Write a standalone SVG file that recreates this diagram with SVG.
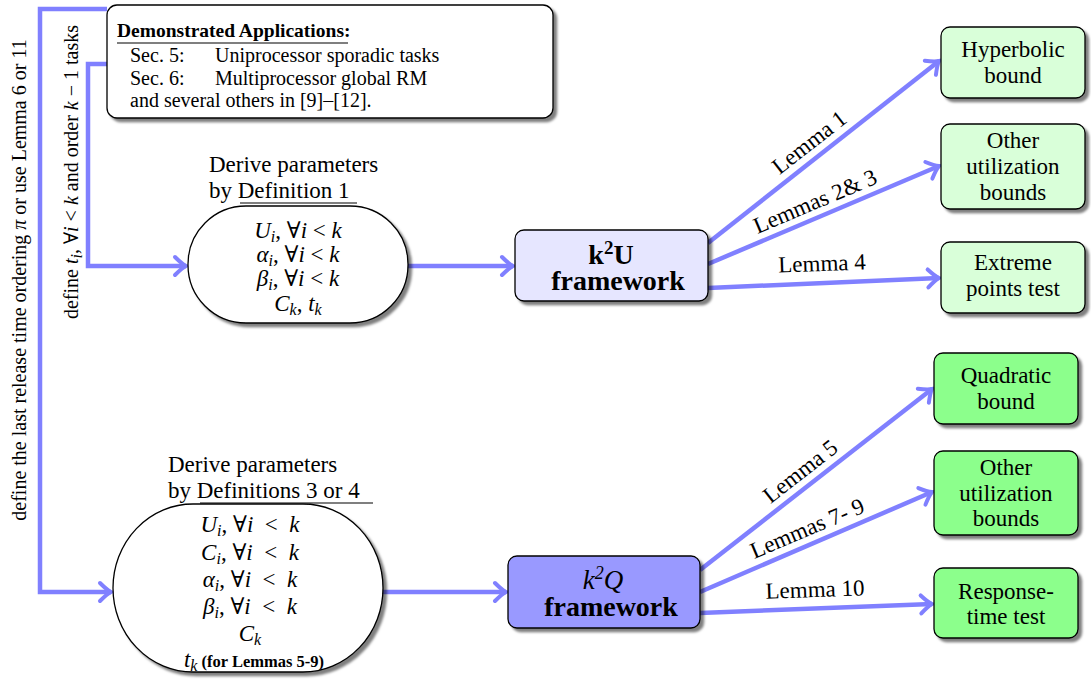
<svg xmlns="http://www.w3.org/2000/svg" width="1091" height="684" viewBox="0 0 1091 684" font-family="'Liberation Serif', 'Times New Roman', serif">
<style>
text,tspan{font-family:"Liberation Serif","Times New Roman","DejaVu Serif",serif}
text{fill:#000}
.t{font-size:23px}
.c{text-anchor:middle}
.m{font-size:23px;text-anchor:middle}
.i{font-style:italic}
.s{font-size:16px}
.b{font-weight:bold}
.small{font-size:20px}
.lbl{font-size:23px;text-anchor:middle}
.conn{fill:none;stroke:#8080ff;stroke-width:4.5;marker-end:url(#ah)}
.shape{stroke:#000;stroke-width:1.3}
.ul{stroke:#000;stroke-width:1.2}
</style>
<defs>
<marker id="ah" markerUnits="userSpaceOnUse" markerWidth="24" markerHeight="24" viewBox="-14 -12 16 24" refX="0" refY="0" orient="auto">
<path d="M-11,-9 Q-4,-2 0,0 Q-4,2 -11,9" fill="none" stroke="#8080ff" stroke-width="4" stroke-linecap="round"/>
</marker>
<filter id="ds" x="-10%" y="-10%" width="130%" height="130%">
<feDropShadow dx="3.5" dy="3.5" stdDeviation="1" flood-color="#000" flood-opacity="0.5"/>
</filter>
</defs>
<rect width="1091" height="684" fill="#fff"/>

<g id="connectors">
<path class="conn" d="M107,9 H40 V592 H111"/>
<path class="conn" d="M107,64 H88 V266 H186"/>
<path class="conn" d="M408,266 H513"/>
<path class="conn" d="M383,592 H506"/>
<path class="conn" d="M708,243 L939,61"/>
<path class="conn" d="M708,264 L939,166"/>
<path class="conn" d="M708,288 L939,278"/>
<path class="conn" d="M700,570 L932,389"/>
<path class="conn" d="M700,592 L932,492"/>
<path class="conn" d="M700,613 L932,604"/>
<text class="lbl" transform="translate(809,142) rotate(-38)" y="8">Lemma 1</text>
<text class="lbl" transform="translate(815,201) rotate(-23)" y="8">Lemmas 2&amp; 3</text>
<text class="lbl" transform="translate(822,263) rotate(-2)" y="8">Lemma 4</text>
<text class="lbl" transform="translate(800,471) rotate(-38)" y="8">Lemma 5</text>
<text class="lbl" transform="translate(807,528) rotate(-23)" y="8">Lemmas 7- 9</text>
<text class="lbl" transform="translate(815,589) rotate(-2)" y="8">Lemma 10</text>
<text class="small c" transform="translate(26,280) rotate(-90)">define the last release time ordering <tspan class="i">π</tspan> or use Lemma 6 or 11</text>
<text class="small c" transform="translate(78,172) rotate(-90)">define <tspan class="i">t</tspan><tspan class="i s" dy="4">i</tspan><tspan dy="-4">, ∀</tspan><tspan class="i">i</tspan> &lt; <tspan class="i">k</tspan> and order <tspan class="i">k</tspan> − 1 tasks</text>
</g>

<g id="apps">
<rect x="107" y="5" width="446" height="113" rx="10" fill="#fff" class="shape" filter="url(#ds)"/>
<text class="b" font-size="19.5" x="117" y="37">Demonstrated Applications:</text>
<line class="ul" x1="117" y1="43" x2="348" y2="43"/>
<text class="small" x="130" y="62">Sec. 5:</text>
<text class="small" x="215" y="62">Uniprocessor sporadic tasks</text>
<text class="small" x="130" y="85">Sec. 6:</text>
<text class="small" x="215" y="85">Multiprocessor global RM</text>
<text class="small" x="130" y="107">and several others in [9]–[12].</text>
</g>

<g id="derive1">
<text class="t" x="209" y="172">Derive parameters</text>
<text class="t" x="209" y="198">by Definition 1</text>
<line class="ul" x1="240" y1="203" x2="357" y2="203"/>
<rect x="188" y="206" width="220" height="117" rx="58" ry="58" fill="#fff" class="shape" filter="url(#ds)"/>
<text class="m" x="298" y="238"><tspan class="i">U</tspan><tspan class="i s" dy="4">i</tspan><tspan dy="-4">, ∀</tspan><tspan class="i">i</tspan> &lt; <tspan class="i">k</tspan></text>
<text class="m" x="298" y="262"><tspan class="i">α</tspan><tspan class="i s" dy="4">i</tspan><tspan dy="-4">, ∀</tspan><tspan class="i">i</tspan> &lt; <tspan class="i">k</tspan></text>
<text class="m" x="298" y="286"><tspan class="i">β</tspan><tspan class="i s" dy="4">i</tspan><tspan dy="-4">, ∀</tspan><tspan class="i">i</tspan> &lt; <tspan class="i">k</tspan></text>
<text class="m" x="298" y="311"><tspan class="i">C</tspan><tspan class="i s" dy="4">k</tspan><tspan dy="-4">, </tspan><tspan class="i">t</tspan><tspan class="i s" dy="4">k</tspan></text>
</g>

<g id="derive2">
<text class="t" x="168" y="472">Derive parameters</text>
<text class="t" x="168" y="498">by Definitions 3 or 4</text>
<line class="ul" x1="200" y1="503" x2="373" y2="503"/>
<rect x="113" y="504" width="270" height="168" rx="80" ry="84" fill="#fff" class="shape" filter="url(#ds)"/>
<text class="m" x="250" y="532"><tspan class="i">U</tspan><tspan class="i s" dy="4">i</tspan><tspan dy="-4">, ∀</tspan><tspan class="i">i</tspan>  &#160;&lt;&#160; <tspan class="i">k</tspan></text>
<text class="m" x="250" y="560"><tspan class="i">C</tspan><tspan class="i s" dy="4">i</tspan><tspan dy="-4">, ∀</tspan><tspan class="i">i</tspan>  &#160;&lt;&#160; <tspan class="i">k</tspan></text>
<text class="m" x="250" y="587"><tspan class="i">α</tspan><tspan class="i s" dy="4">i</tspan><tspan dy="-4">, ∀</tspan><tspan class="i">i</tspan>  &#160;&lt;&#160; <tspan class="i">k</tspan></text>
<text class="m" x="250" y="614"><tspan class="i">β</tspan><tspan class="i s" dy="4">i</tspan><tspan dy="-4">, ∀</tspan><tspan class="i">i</tspan>  &#160;&lt;&#160; <tspan class="i">k</tspan></text>
<text class="m" x="250" y="641"><tspan class="i">C</tspan><tspan class="i s" dy="4">k</tspan></text>
<text class="m" x="254" y="667"><tspan class="i">t</tspan><tspan class="i s" dy="4">k</tspan><tspan dy="-4" class="b" font-size="16.5"> (for Lemmas 5-9)</tspan></text>
</g>

<g id="k2u">
<rect x="515" y="230" width="193" height="71" rx="9" fill="#e6e6ff" class="shape" filter="url(#ds)"/>
<text class="c b" font-size="28" x="611" y="264">k<tspan font-size="19" dy="-10">2</tspan><tspan dy="10">U</tspan></text>
<text class="c b" font-size="28" x="618" y="290">framework</text>
</g>

<g id="k2q">
<rect x="508" y="556" width="192" height="72" rx="9" fill="#9999ff" class="shape" filter="url(#ds)"/>
<text class="c i" font-size="27" x="603" y="589">k<tspan font-size="18" dy="-10">2</tspan><tspan dy="10">Q</tspan></text>
<text class="c b" font-size="28" x="611" y="616">framework</text>
</g>

<g id="hyperbolic">
<rect x="941" y="27" width="144" height="71" rx="9" fill="#d9ffd9" class="shape" filter="url(#ds)"/>
<text class="t c" x="1013" y="57">Hyperbolic</text>
<text class="t c" x="1013" y="83">bound</text>
</g>
<g id="other1">
<rect x="941" y="124" width="144" height="85" rx="9" fill="#d9ffd9" class="shape" filter="url(#ds)"/>
<text class="t c" x="1013" y="148">Other</text>
<text class="t c" x="1013" y="174">utilization</text>
<text class="t c" x="1013" y="200">bounds</text>
</g>
<g id="extreme">
<rect x="941" y="242" width="144" height="71" rx="9" fill="#d9ffd9" class="shape" filter="url(#ds)"/>
<text class="t c" x="1013" y="270">Extreme</text>
<text class="t c" x="1013" y="296">points test</text>
</g>

<g id="quadratic">
<rect x="934" y="353" width="144" height="71" rx="9" fill="#8cff8c" class="shape" filter="url(#ds)"/>
<text class="t c" x="1006" y="383">Quadratic</text>
<text class="t c" x="1006" y="409">bound</text>
</g>
<g id="other2">
<rect x="934" y="451" width="144" height="84" rx="9" fill="#8cff8c" class="shape" filter="url(#ds)"/>
<text class="t c" x="1006" y="475">Other</text>
<text class="t c" x="1006" y="501">utilization</text>
<text class="t c" x="1006" y="526">bounds</text>
</g>
<g id="response">
<rect x="934" y="568" width="144" height="70" rx="9" fill="#8cff8c" class="shape" filter="url(#ds)"/>
<text class="t c" x="1006" y="599">Response-</text>
<text class="t c" x="1006" y="624">time test</text>
</g>
</svg>
